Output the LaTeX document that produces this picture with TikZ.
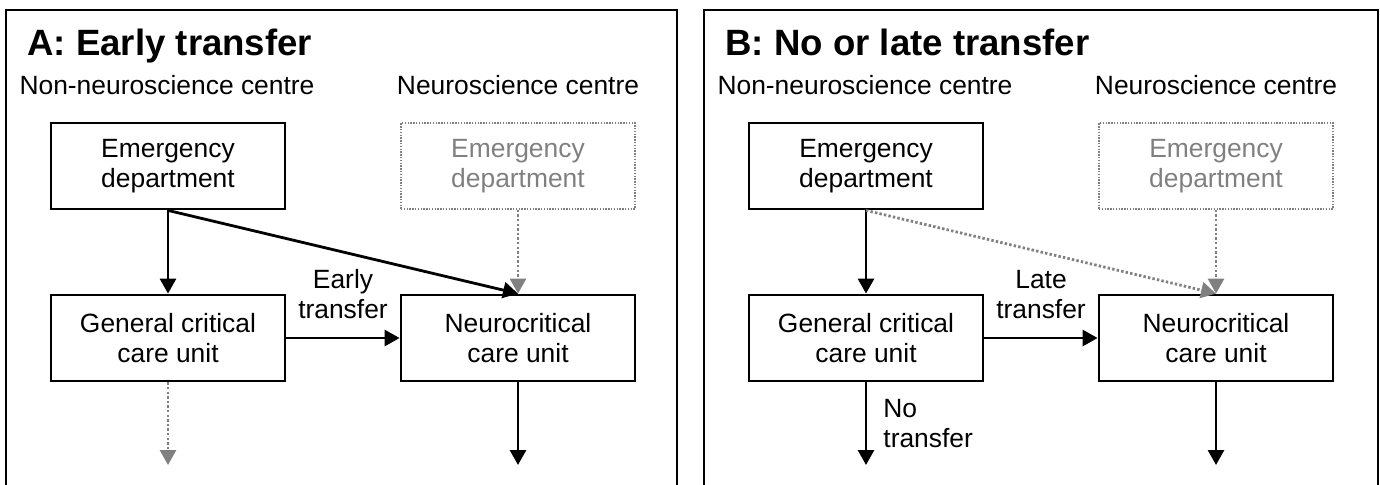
\documentclass[tikz,border=0pt]{standalone}
\usepackage{fontspec}
\setmainfont{Liberation Sans}
\usetikzlibrary{arrows.meta}
\begin{document}
\begin{tikzpicture}[x=0.5pt,y=-0.5pt,
    txt/.style={font=\fontsize{13.2}{15}\selectfont},
    box/.style={txt,draw,line width=1.4pt,minimum width=117pt,minimum height=43pt,align=center,inner sep=2pt},
    ghost/.style={box,draw=gray,text=gray,line width=0.7pt,dash pattern=on 0.7pt off 0.7pt},
    head/.style={txt,anchor=base,inner sep=0pt},
    title/.style={anchor=base west,inner sep=0pt,font=\fontsize{18.3}{21}\selectfont\bfseries},
    lab/.style={txt,inner sep=0pt,align=center},
    flow/.style={-{Triangle[width=8pt,length=7.5pt]},line width=1.4pt},
    dflow/.style={flow,gray,dash pattern=on 1.2pt off 1.1pt},
    panel/.style={line width=1pt}]
  \useasboundingbox (0,0) rectangle (1380,484);
  \draw[panel] (6,490) -- (6,10) -- (677,10) -- (677,490);
  \draw[panel] (704,490) -- (704,10) -- (1378,10) -- (1378,490);
  \draw
    (27,55) node[title] (atitle) {A: Early transfer}
    (167,94) node[head] (anon) {Non-neuroscience centre}
    (518,94) node[head] (aneu) {Neuroscience centre}
    (168,166) node[box] (aed) {Emergency\\department}
    (518,166) node[ghost] (aged) {Emergency\\department}
    (168,338) node[box] (agc) {General critical\\care unit}
    (518,338) node[box] (anc) {Neurocritical\\care unit}
    (725,55) node[title] (btitle) {B: No or late transfer}
    (865,94) node[head] (bnon) {Non-neuroscience centre}
    (1216,94) node[head] (bneu) {Neuroscience centre}
    (866,166) node[box] (bed) {Emergency\\department}
    (1216,166) node[ghost] (bged) {Emergency\\department}
    (866,338) node[box] (bgc) {General critical\\care unit}
    (1216,338) node[box] (bnc) {Neurocritical\\care unit};
  \coordinate (aout1) at (168,465);
  \coordinate (aout2) at (518,465);
  \coordinate (bout1) at (866,465);
  \coordinate (bout2) at (1216,465);
  \begin{scope}[flow]
    \draw (aed) to (agc);
    \draw (aed.south) to (anc.north);
    \draw[dflow] (aged) to (anc);
    \draw (agc) to node[lab,above=9pt] {Early\\transfer} (anc);
    \draw[dflow] (agc) to (aout1);
    \draw (anc) to (aout2);
    \draw (bed) to (bgc);
    \draw[dflow] (bed.south) to (bnc.north);
    \draw[dflow] (bged) to (bnc);
    \draw (bgc) to node[lab,above=9pt] {Late\\transfer} (bnc);
    \draw (bgc) to node[lab,right=8pt,align=left] {No\\transfer} (bout1);
    \draw (bnc) to (bout2);
  \end{scope}
\end{tikzpicture}
\end{document}
